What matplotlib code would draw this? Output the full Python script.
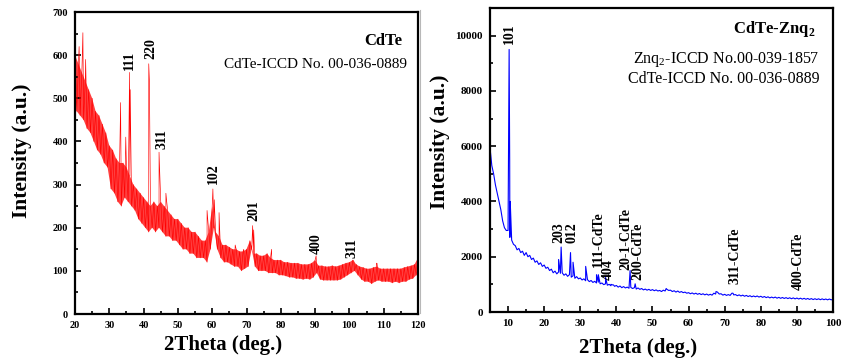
import numpy as np
import matplotlib
matplotlib.use("Agg")
import matplotlib.pyplot as plt
from matplotlib.ticker import MultipleLocator

plt.rcParams['font.family'] = ['Liberation Serif', 'DejaVu Serif']
plt.rcParams['mathtext.fontset'] = 'custom'
plt.rcParams['mathtext.rm'] = 'Liberation Serif'
plt.rcParams['mathtext.bf'] = 'Liberation Serif:bold'

# ---------------- Data: CdTe (left panel) ----------------
# values every 0.5 deg from 20 deg, alternating upper / lower edge of the noisy trace
cdte_x_start, cdte_x_step = 20.0, 0.5
cdte_base = [
    600, 470, 580, 460, 560, 450, 540, 430, 520, 420,
    500, 400, 470, 380, 460, 370, 440, 350, 420, 340,
    390, 290, 380, 280, 360, 260, 350, 250, 350, 270,
    340, 260, 320, 250, 300, 240, 290, 220, 280, 210,
    270, 200, 260, 190, 250, 200, 260, 190, 250, 200,
    260, 190, 250, 180, 240, 180, 230, 170, 220, 170,
    220, 160, 210, 150, 200, 150, 200, 140, 190, 140,
    190, 130, 180, 130, 170, 130, 170, 120, 190, 150,
    250, 200, 190, 150, 180, 130, 160, 120, 160, 120,
    155, 115, 150, 110, 150, 110, 145, 100, 145, 105,
    150, 110, 170, 150, 140, 110, 140, 100, 135, 100,
    135, 100, 140, 95, 130, 95, 125, 95, 125, 90,
    125, 90, 120, 88, 120, 85, 118, 85, 118, 82,
    118, 82, 115, 80, 115, 82, 115, 80, 118, 85,
    125, 95, 112, 80, 112, 78, 110, 78, 110, 78,
    112, 78, 110, 78, 112, 80, 115, 85, 118, 90,
    120, 95, 125, 100, 115, 90, 110, 80, 108, 75,
    105, 75, 105, 70, 108, 75, 110, 78, 105, 75,
    105, 75, 105, 75, 105, 72, 105, 75, 105, 72,
    105, 75, 108, 75, 110, 80, 112, 82, 115, 90,
    130,
]
cdte_peak_x = [21.2, 22.3, 23.1, 33.3, 34.8, 35.9, 36.1, 41.5, 41.7, 44.5,
               46.5, 58.5, 60.2, 60.6, 62.0, 66.7, 69.2, 71.8, 72.1, 77.3,
               90.3, 101.3, 108.0]
cdte_peak_y = [620, 652, 590, 490, 410, 560, 520, 580, 540, 375,
               280, 240, 290, 265, 235, 160, 150, 205, 195, 150,
               135, 122, 118]
cdte_labels = ["111", "220", "311", "102", "201", "400", "311"]
cdte_label_x = [35.8, 42.0, 45.5, 60.4, 72.2, 90.2, 100.9]
cdte_label_y = [565, 592, 382, 302, 215, 138, 130]

# ---------------- Data: CdTe-Znq2 (right panel) ----------------
znq_x_start, znq_x_step = 5.0, 0.5
znq_base = [
    5950, 5300, 5000, 4600, 4300, 4000, 3700, 3300, 3050, 2950,
    2950, 2700, 2600, 2450, 2400, 2250, 2300, 2150, 2200, 2050,
    2150, 2000, 2050, 1900, 1950, 1800, 1850, 1720, 1780, 1650,
    1700, 1580, 1620, 1500, 1550, 1420, 1480, 1380, 1450, 1400,
    1420, 1330, 1380, 1290, 1350, 1260, 1310, 1220, 1280, 1200,
    1230, 1160, 1200, 1130, 1170, 1100, 1140, 1070, 1110, 1050,
    1080, 1020, 1050, 990, 1020, 970, 1000, 950, 980, 930,
    960, 900, 940, 880, 920, 870, 900, 860, 890, 850,
    880, 830, 870, 820, 850, 800, 830, 790, 820, 780,
    810, 770, 800, 760, 780, 740, 790, 760, 820, 780,
    790, 740, 770, 720, 760, 710, 740, 700, 720, 680,
    700, 660, 690, 650, 680, 640, 670, 630, 660, 620,
    650, 610, 640, 610, 680, 650, 720, 650, 660, 610,
    640, 600, 630, 600, 680, 620, 630, 590, 620, 580,
    610, 570, 600, 560, 590, 550, 580, 550, 580, 540,
    570, 530, 560, 520, 550, 510, 540, 510, 540, 500,
    530, 495, 525, 490, 520, 485, 515, 480, 510, 475,
    505, 470, 500, 465, 495, 460, 490, 455, 485, 450,
    480, 450, 478, 445, 475, 445, 470, 440, 470, 440,
    460,
]
znq_peak_x = [10.3, 10.45, 10.6, 24.0, 24.7, 27.3, 28.0, 31.5, 34.5, 35.0,
              37.0, 38.5, 39.2, 43.8, 45.2, 53.8, 67.6, 72.3]
znq_peak_y = [9500, 5500, 4000, 1900, 2350, 2150, 1800, 1650, 1350, 1350,
              1250, 1000, 980, 1500, 1020, 850, 740, 680]
znq_labels = ["101", "203", "012", "111-CdTe", "404", "20-1-CdTe", "200-CdTe",
              "311-CdTe", "400-CdTe"]
znq_label_x = [10.5, 24.1, 27.7, 34.9, 37.7, 42.7, 46.0, 72.9, 90.3]
znq_label_y = [9700, 2480, 2480, 1620, 1150, 1510, 1150, 1030, 780]


def merge(x0, step, base, px, py):
    bx = x0 + step * np.arange(len(base))
    x = np.concatenate([bx, np.array(px)])
    y = np.concatenate([np.array(base, float), np.array(py, float)])
    order = np.argsort(x, kind="stable")
    return x[order], y[order]


fig = plt.figure(figsize=(8.46, 3.63), dpi=100)
ax1 = fig.add_axes([75/846, 49/363, 343/846, 302/363])
ax2 = fig.add_axes([490/846, 51/363, 343/846, 304/363])

# faint separator line of the right picture
fig.add_artist(plt.Line2D([420/846, 420/846], [50/363, 353/363],
                          color="#b8b8b8", lw=0.8))

# noisy band of the CdTe trace: upper edge (even entries) and lower edge (odd entries)
bx1 = cdte_x_start + cdte_x_step * np.arange(len(cdte_base))
base1 = np.array(cdte_base, float)
xu, yu = bx1[0::2], base1[0::2]
xl, yl = bx1[1::2], base1[1::2]
ax1.fill(np.concatenate([xu, xl[::-1]]), np.concatenate([yu, yl[::-1]]),
         color="#ff2a2a", lw=0, alpha=0.9, zorder=1)
x1, y1 = merge(cdte_x_start, cdte_x_step, cdte_base, cdte_peak_x, cdte_peak_y)
ax1.plot(x1, y1, color="#ff0000", lw=0.45, zorder=2)

x2, y2 = merge(znq_x_start, znq_x_step, znq_base, znq_peak_x, znq_peak_y)
ax2.plot(x2, y2, color="#0000ff", lw=0.8)

ax1.set_xlim(20, 120)
ax1.set_ylim(0, 700)
ax1.xaxis.set_major_locator(MultipleLocator(10))
ax1.xaxis.set_minor_locator(MultipleLocator(5))
ax1.yaxis.set_major_locator(MultipleLocator(100))
ax1.yaxis.set_minor_locator(MultipleLocator(50))

ax2.set_xlim(5, 100)
ax2.set_ylim(0, 11000)
ax2.set_xticks([10, 20, 30, 40, 50, 60, 70, 80, 90, 100])
ax2.xaxis.set_minor_locator(MultipleLocator(5))
ax2.yaxis.set_major_locator(MultipleLocator(2000))
ax2.yaxis.set_minor_locator(MultipleLocator(1000))

for ax, ls in ((ax1, 7.5), (ax2, 8)):
    for sp in ax.spines.values():
        sp.set_linewidth(1.6)
    ax.tick_params(which="both", direction="in", width=1.2, top=False, right=False)
    ax.tick_params(which="major", length=4, labelsize=ls, pad=5)
    ax.tick_params(which="minor", length=2.5)
    for lab in ax.get_xticklabels() + ax.get_yticklabels():
        lab.set_fontweight("bold")

# axis titles
fig.text(223/846, 1 - 345/363, "2Theta (deg.)", ha="center", va="center",
         fontsize=15, fontweight="bold")
fig.text(638/846, 1 - 348/363, "2Theta (deg.)", ha="center", va="center",
         fontsize=15, fontweight="bold")
fig.text(22/846, 1 - 151/363, "Intensity (a.u.)", ha="center", va="center",
         rotation=90, fontsize=15.5, fontweight="bold")
fig.text(440/846, 1 - 142/363, "Intensity (a.u.)", ha="center", va="center",
         rotation=90, fontsize=15.5, fontweight="bold")

ax1.text(0.955, 0.905, "CdTe", transform=ax1.transAxes, ha="right", va="center",
         fontsize=12, fontweight="bold")
ax1.text(0.968, 0.825, "CdTe-ICCD No. 00-036-0889", transform=ax1.transAxes,
         ha="right", va="center", fontsize=11)

ax2.text(0.95, 0.93, r"CdTe-Znq$_\mathbf{2}$", transform=ax2.transAxes,
         ha="right", va="center", fontsize=12, fontweight="bold")
ax2.text(0.96, 0.83, r"Znq$_2$-ICCD No.00-039-1857", transform=ax2.transAxes,
         ha="right", va="center", fontsize=11.5)
ax2.text(0.96, 0.765, "CdTe-ICCD No. 00-036-0889", transform=ax2.transAxes,
         ha="right", va="center", fontsize=11.5)

for t, x, y in zip(cdte_labels, cdte_label_x, cdte_label_y):
    ax1.text(x, y, t, rotation=90, ha="center", va="bottom", fontsize=10,
             fontweight="bold")
for t, x, y in zip(znq_labels, znq_label_x, znq_label_y):
    ax2.text(x, y, t, rotation=90, ha="center", va="bottom", fontsize=10,
             fontweight="bold")

fig.savefig("out.png", dpi=100)
